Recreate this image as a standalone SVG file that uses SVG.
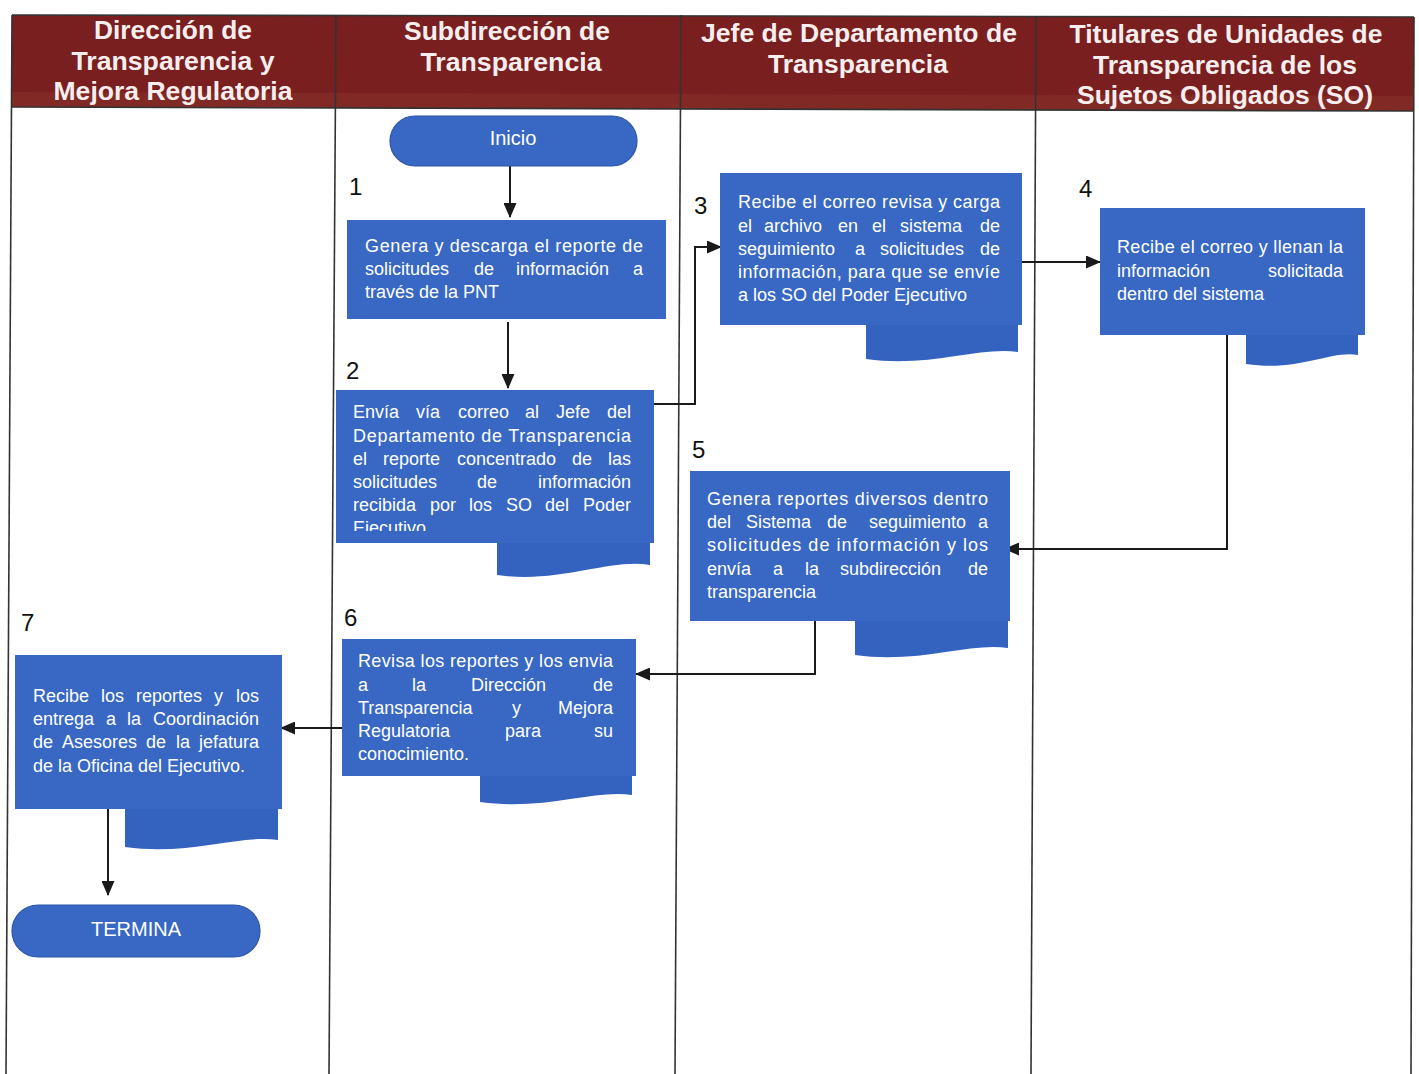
<svg xmlns="http://www.w3.org/2000/svg" width="1419" height="1074" viewBox="0 0 1419 1074">
  <style>
    .hdr { font-family: "Liberation Sans", Arial, sans-serif; font-weight: bold; font-size: 26px; fill: #f6eeee; text-anchor: middle; }
    .box { fill: #3868c4; }
    .tab { fill: #3463bf; }
    .term { fill: #3868c4; stroke: #2b55a6; stroke-width: 1.2; }
    .txt { font-family: "Liberation Sans", Arial, sans-serif; font-size: 18px; fill: #ffffff; }
    .ttl { font-family: "Liberation Sans", Arial, sans-serif; font-size: 20px; fill: #ffffff; text-anchor: middle; }
    .num { font-family: "Liberation Sans", Arial, sans-serif; font-size: 24px; fill: #111111; }
    .grid { stroke: #333333; stroke-width: 1.6; fill: none; }
    .conn { stroke: #1a1a1a; stroke-width: 2; fill: none; marker-end: url(#arrow); }
  </style>
  <defs>
    <marker id="arrow" markerUnits="userSpaceOnUse" markerWidth="15" markerHeight="13" refX="14" refY="6.5" orient="auto">
      <path d="M0,0 L15,6.5 L0,13 Z" fill="#1a1a1a"/>
    </marker>
    <clipPath id="clip2">
      <rect x="336" y="390" width="320" height="141"/>
    </clipPath>
  </defs>

  <rect width="1419" height="1074" fill="#ffffff"/>

  <!-- swimlane table -->
  <g id="table">
    <polygon points="12,15 1414,17 1414,111 12,107" fill="#7a1f1f"/>
    <polygon points="12,92 1414,96 1414,111 12,107" fill="#84302a" opacity="0.6"/>
    <line class="grid" x1="12" y1="15" x2="1414" y2="17"/>
    <line class="grid" x1="12" y1="107" x2="1414" y2="111"/>
    <line class="grid" x1="12" y1="15" x2="6" y2="1074"/>
    <line class="grid" x1="336" y1="15" x2="329" y2="1074"/>
    <line class="grid" x1="681" y1="15" x2="675" y2="1074"/>
    <line class="grid" x1="1036" y1="16" x2="1031" y2="1074"/>
    <line class="grid" x1="1414" y1="17" x2="1411" y2="1074"/>
    <text class="hdr" x="173" y="39" textLength="158" lengthAdjust="spacingAndGlyphs">Dirección de</text>
    <text class="hdr" x="173" y="70" textLength="203" lengthAdjust="spacingAndGlyphs">Transparencia y</text>
    <text class="hdr" x="173" y="100" textLength="239" lengthAdjust="spacingAndGlyphs">Mejora Regulatoria</text>
    <text class="hdr" x="507" y="40" textLength="206" lengthAdjust="spacingAndGlyphs">Subdirección de</text>
    <text class="hdr" x="511" y="71" textLength="181" lengthAdjust="spacingAndGlyphs">Transparencia</text>
    <text class="hdr" x="859" y="42" textLength="316" lengthAdjust="spacingAndGlyphs">Jefe de Departamento de</text>
    <text class="hdr" x="858" y="73" textLength="180" lengthAdjust="spacingAndGlyphs">Transparencia</text>
    <text class="hdr" x="1226" y="43" textLength="313" lengthAdjust="spacingAndGlyphs">Titulares de Unidades de</text>
    <text class="hdr" x="1225" y="74" textLength="264" lengthAdjust="spacingAndGlyphs">Transparencia de los</text>
    <text class="hdr" x="1225" y="104" textLength="296" lengthAdjust="spacingAndGlyphs">Sujetos Obligados (SO)</text>
  </g>

  <!-- connectors -->
  <g id="connectors">
    <path class="conn" d="M510,166 V217"/>
    <path class="conn" d="M508,322 V388"/>
    <path class="conn" d="M654,404 H695 V247 H721"/>
    <path class="conn" d="M1022,262 H1100"/>
    <path class="conn" d="M1227,335 V549 H1005"/>
    <path class="conn" d="M815,621 V674 H636"/>
    <path class="conn" d="M342,728 H281"/>
    <path class="conn" d="M108,809 V895"/>
  </g>

  <!-- step numbers -->
  <g id="numbers">
    <text class="num" x="349" y="195">1</text>
    <text class="num" x="346" y="379">2</text>
    <text class="num" x="694" y="214">3</text>
    <text class="num" x="1079" y="197">4</text>
    <text class="num" x="692" y="458">5</text>
    <text class="num" x="344" y="626">6</text>
    <text class="num" x="21" y="631">7</text>
  </g>

  <g id="inicio">
    <rect class="term" x="390" y="116" width="247" height="50" rx="25" ry="25"/>
    <text class="ttl" x="513" y="145">Inicio</text>
  </g>

  <g id="step1">
    <rect class="box" x="347" y="220" width="319" height="99"/>
    <text class="txt" x="365" y="252" textLength="278" lengthAdjust="spacing">Genera y descarga el reporte de</text>
    <text class="txt" y="275"><tspan x="365">solicitudes</tspan><tspan x="474">de</tspan><tspan x="516">información</tspan><tspan x="633">a</tspan></text>
    <text class="txt" x="365" y="298">través de la PNT</text>
  </g>

  <g id="step2">
    <path class="tab" d="M497,530 H650 V565 C610,558 560,584 497,575 Z"/>
    <rect class="box" x="336" y="390" width="318" height="153"/>
    <g clip-path="url(#clip2)">
      <text class="txt" y="418"><tspan x="353">Envía</tspan><tspan x="416">vía</tspan><tspan x="458">correo</tspan><tspan x="525">al</tspan><tspan x="556">Jefe</tspan><tspan x="631" text-anchor="end">del</tspan></text>
      <text class="txt" x="353" y="442" textLength="278" lengthAdjust="spacing">Departamento de Transparencia</text>
      <text class="txt" y="465"><tspan x="353">el</tspan><tspan x="383">reporte</tspan><tspan x="457">concentrado</tspan><tspan x="572">de</tspan><tspan x="631" text-anchor="end">las</tspan></text>
      <text class="txt" y="488"><tspan x="353">solicitudes</tspan><tspan x="477">de</tspan><tspan x="631" text-anchor="end">información</tspan></text>
      <text class="txt" y="511"><tspan x="353">recibida</tspan><tspan x="430">por</tspan><tspan x="469">los</tspan><tspan x="506">SO</tspan><tspan x="545">del</tspan><tspan x="631" text-anchor="end">Poder</tspan></text>
      <text class="txt" x="353" y="534">Ejecutivo</text>
    </g>
  </g>

  <g id="step3">
    <path class="tab" d="M866,310 H1018 V352 C980,346 930,368 866,359 Z"/>
    <rect class="box" x="720" y="173" width="302" height="152"/>
    <text class="txt" x="738" y="208" textLength="262" lengthAdjust="spacing">Recibe el correo revisa y carga</text>
    <text class="txt" y="232"><tspan x="738">el</tspan><tspan x="764">archivo</tspan><tspan x="838">en</tspan><tspan x="872">el</tspan><tspan x="900">sistema</tspan><tspan x="1000" text-anchor="end">de</tspan></text>
    <text class="txt" y="255"><tspan x="738">seguimiento</tspan><tspan x="855">a</tspan><tspan x="880">solicitudes</tspan><tspan x="1000" text-anchor="end">de</tspan></text>
    <text class="txt" x="738" y="278" textLength="262" lengthAdjust="spacing">información, para que se envíe</text>
    <text class="txt" x="738" y="301">a los SO del Poder Ejecutivo</text>
  </g>

  <g id="step4">
    <path class="tab" d="M1246,320 H1358 V355 C1330,350 1300,372 1246,364 Z"/>
    <rect class="box" x="1100" y="208" width="265" height="127"/>
    <text class="txt" x="1117" y="253" textLength="226" lengthAdjust="spacing">Recibe el correo y llenan la</text>
    <text class="txt" y="277"><tspan x="1117">información</tspan><tspan x="1343" text-anchor="end">solicitada</tspan></text>
    <text class="txt" x="1117" y="300">dentro del sistema</text>
  </g>

  <g id="step5">
    <path class="tab" d="M855,605 H1008 V648 C970,642 920,664 855,655 Z"/>
    <rect class="box" x="690" y="471" width="320" height="150"/>
    <text class="txt" x="707" y="505" textLength="281" lengthAdjust="spacing">Genera reportes diversos dentro</text>
    <text class="txt" y="528"><tspan x="707">del</tspan><tspan x="746">Sistema</tspan><tspan x="827">de</tspan><tspan x="869">seguimiento</tspan><tspan x="988" text-anchor="end">a</tspan></text>
    <text class="txt" x="707" y="551" textLength="281" lengthAdjust="spacing">solicitudes de información y los</text>
    <text class="txt" y="575"><tspan x="707">envía</tspan><tspan x="773">a</tspan><tspan x="805">la</tspan><tspan x="840">subdirección</tspan><tspan x="988" text-anchor="end">de</tspan></text>
    <text class="txt" x="707" y="598">transparencia</text>
  </g>

  <g id="step6">
    <path class="tab" d="M480,760 H632 V795 C595,789 545,811 480,802 Z"/>
    <rect class="box" x="342" y="639" width="294" height="137"/>
    <text class="txt" x="358" y="667" textLength="255" lengthAdjust="spacing">Revisa los reportes y los envia</text>
    <text class="txt" y="691"><tspan x="358">a</tspan><tspan x="412">la</tspan><tspan x="471">Dirección</tspan><tspan x="613" text-anchor="end">de</tspan></text>
    <text class="txt" y="714"><tspan x="358">Transparencia</tspan><tspan x="512">y</tspan><tspan x="613" text-anchor="end">Mejora</tspan></text>
    <text class="txt" y="737"><tspan x="358">Regulatoria</tspan><tspan x="505">para</tspan><tspan x="613" text-anchor="end">su</tspan></text>
    <text class="txt" x="358" y="760">conocimiento.</text>
  </g>

  <g id="step7">
    <path class="tab" d="M125,795 H278 V840 C240,834 190,856 125,847 Z"/>
    <rect class="box" x="15" y="655" width="267" height="154"/>
    <text class="txt" y="702"><tspan x="33">Recibe</tspan><tspan x="101">los</tspan><tspan x="136">reportes</tspan><tspan x="214">y</tspan><tspan x="259" text-anchor="end">los</tspan></text>
    <text class="txt" y="725"><tspan x="33">entrega</tspan><tspan x="106">a</tspan><tspan x="127">la</tspan><tspan x="259" text-anchor="end">Coordinación</tspan></text>
    <text class="txt" y="748"><tspan x="33">de</tspan><tspan x="62">Asesores</tspan><tspan x="146">de</tspan><tspan x="176">la</tspan><tspan x="259" text-anchor="end">jefatura</tspan></text>
    <text class="txt" x="33" y="772">de la Oficina del Ejecutivo.</text>
  </g>

  <g id="termina">
    <rect class="term" x="12" y="905" width="248" height="52" rx="26" ry="26"/>
    <text class="ttl" x="136" y="936">TERMINA</text>
  </g>
</svg>
